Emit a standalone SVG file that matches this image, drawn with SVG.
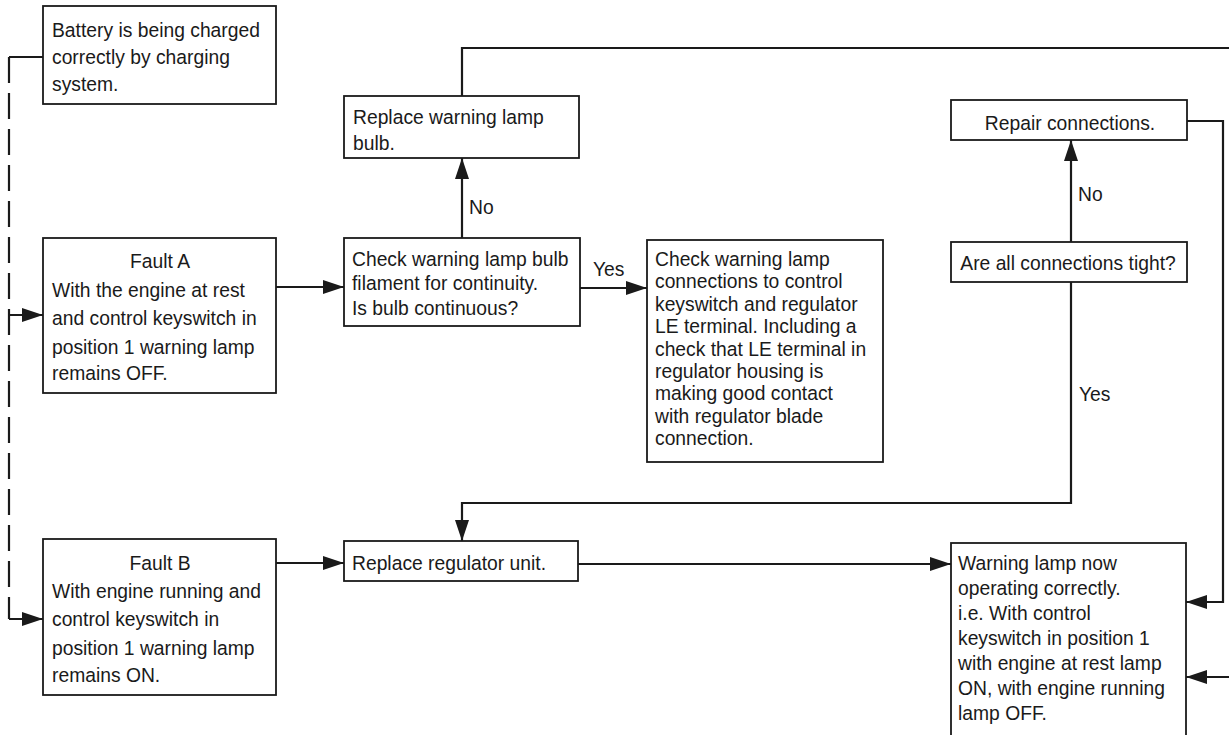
<svg xmlns="http://www.w3.org/2000/svg" width="1229" height="735" viewBox="0 0 1229 735">
<style>
.box{fill:#fff;stroke:#1a1a1a;stroke-width:1.8}
.t{font-family:"Liberation Sans",Arial,sans-serif;font-size:19.3px;fill:#1a1a1a}
.c{text-anchor:middle}
.ln{fill:none;stroke:#1a1a1a;stroke-width:2.2}
.dash{stroke-dasharray:26 10}
</style>
<defs>
<marker id="ah" markerUnits="userSpaceOnUse" markerWidth="22" markerHeight="14" refX="21" refY="7" orient="auto">
<path d="M0,0 L21,7 L0,14 z" fill="#1a1a1a"/>
</marker>
</defs>
<rect width="1229" height="735" fill="#fff"/>
<g id="connectors">
<path class="ln" d="M43,57 H9"/>
<path class="ln dash" d="M9,57 V619"/>
<path class="ln" d="M9,315 H43" marker-end="url(#ah)"/>
<path class="ln" d="M9,619 H43" marker-end="url(#ah)"/>
<path class="ln" d="M276,287 H344" marker-end="url(#ah)"/>
<path class="ln" d="M462,238 V158" marker-end="url(#ah)"/>
<path class="ln" d="M462,96 V48 H1229"/>
<path class="ln" d="M580,288 H647" marker-end="url(#ah)"/>
<path class="ln" d="M1071,242 V140" marker-end="url(#ah)"/>
<path class="ln" d="M1187,121 H1223 V602 H1186" marker-end="url(#ah)"/>
<path class="ln" d="M1229,677 H1186" marker-end="url(#ah)"/>
<path class="ln" d="M1071,282 V503 H462 V541" marker-end="url(#ah)"/>
<path class="ln" d="M276,563 H344" marker-end="url(#ah)"/>
<path class="ln" d="M578,564 H951" marker-end="url(#ah)"/>
<text class="t" x="469" y="214">No</text>
<text class="t" x="593" y="276">Yes</text>
<text class="t" x="1078" y="201">No</text>
<text class="t" x="1079" y="401">Yes</text>
</g>
<g id="battery">
<rect class="box" x="43" y="6" width="233" height="98"/>
<text class="t" x="52" y="37">Battery is being charged</text>
<text class="t" x="52" y="64">correctly by charging</text>
<text class="t" x="52" y="91">system.</text>
</g>
<g id="faultA">
<rect class="box" x="43" y="238" width="233" height="155"/>
<text class="t c" x="160" y="268">Fault A</text>
<text class="t" x="52" y="297">With the engine at rest</text>
<text class="t" x="52" y="325">and control keyswitch in</text>
<text class="t" x="52" y="354">position 1 warning lamp</text>
<text class="t" x="52" y="380">remains OFF.</text>
</g>
<g id="faultB">
<rect class="box" x="43" y="539" width="233" height="156"/>
<text class="t c" x="160" y="570">Fault B</text>
<text class="t" x="52" y="598">With engine running and</text>
<text class="t" x="52" y="626">control keyswitch in</text>
<text class="t" x="52" y="655">position 1 warning lamp</text>
<text class="t" x="52" y="682">remains ON.</text>
</g>
<g id="replaceBulb">
<rect class="box" x="344" y="96" width="235" height="62"/>
<text class="t" x="353" y="124">Replace warning lamp</text>
<text class="t" x="353" y="150">bulb.</text>
</g>
<g id="checkBulb">
<rect class="box" x="344" y="238" width="236" height="88"/>
<text class="t" x="352" y="266">Check warning lamp bulb</text>
<text class="t" x="352" y="290">filament for continuity.</text>
<text class="t" x="352" y="315">Is bulb continuous?</text>
</g>
<g id="checkConnections">
<rect class="box" x="647" y="240" width="236" height="222"/>
<text class="t" x="655" y="266">Check warning lamp</text>
<text class="t" x="655" y="288.4">connections to control</text>
<text class="t" x="655" y="310.8">keyswitch and regulator</text>
<text class="t" x="655" y="333.2">LE terminal. Including a</text>
<text class="t" x="655" y="355.6">check that LE terminal in</text>
<text class="t" x="655" y="378">regulator housing is</text>
<text class="t" x="655" y="400.4">making good contact</text>
<text class="t" x="655" y="422.8">with regulator blade</text>
<text class="t" x="655" y="445.2">connection.</text>
</g>
<g id="replaceRegulator">
<rect class="box" x="344" y="541" width="234" height="40"/>
<text class="t" x="352" y="570">Replace regulator unit.</text>
</g>
<g id="repair">
<rect class="box" x="951" y="100" width="236" height="40"/>
<text class="t c" x="1070" y="130">Repair connections.</text>
</g>
<g id="tight">
<rect class="box" x="951" y="242" width="236" height="40"/>
<text class="t c" x="1068" y="270">Are all connections tight?</text>
</g>
<g id="warningOk">
<rect class="box" x="951" y="543" width="235" height="210"/>
<text class="t" x="958" y="570">Warning lamp now</text>
<text class="t" x="958" y="595">operating correctly.</text>
<text class="t" x="958" y="620">i.e. With control</text>
<text class="t" x="958" y="645">keyswitch in position 1</text>
<text class="t" x="958" y="670">with engine at rest lamp</text>
<text class="t" x="958" y="695">ON, with engine running</text>
<text class="t" x="958" y="720">lamp OFF.</text>
</g>
</svg>
